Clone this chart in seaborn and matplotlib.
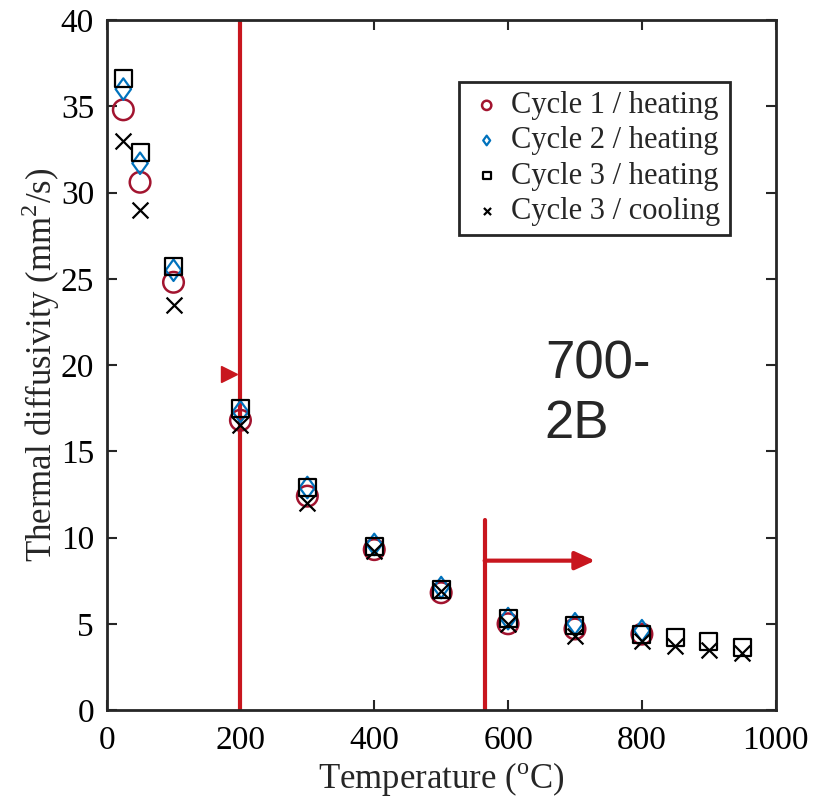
import pandas as pd
import numpy as np
import matplotlib.pyplot as plt
import seaborn as sns
from matplotlib.markers import MarkerStyle
from matplotlib.transforms import Affine2D

sns.set_style("ticks")
plt.rcParams['font.family'] = ['Liberation Serif', 'DejaVu Serif']
plt.rcParams['mathtext.fontset'] = 'custom'
plt.rcParams['mathtext.rm'] = 'Liberation Serif'

# temperatures (C)
temp_short = [25, 50, 100, 200, 300, 400, 500, 600, 700, 800]
temp_long = [25, 50, 100, 200, 300, 400, 500, 600, 700, 800, 850, 900, 950]

# thermal diffusivity (mm2/s)
cycle1_heat = [34.8, 30.6, 24.8, 16.8, 12.4, 9.3, 6.8, 5.0, 4.7, 4.4]
cycle2_heat = [36.0, 31.7, 25.5, 17.3, 12.9, 9.6, 7.1, 5.3, 5.0, 4.6]
cycle3_heat = [36.6, 32.3, 25.7, 17.5, 12.9, 9.5, 7.0, 5.3, 4.9, 4.4, 4.2, 4.0, 3.6]
cycle3_cool = [33.0, 29.0, 23.5, 16.5, 12.0, 9.2, 6.9, 5.0, 4.3, 4.0, 3.7, 3.5, 3.3]

labels = ["Cycle 1 / heating", "Cycle 2 / heating", "Cycle 3 / heating", "Cycle 3 / cooling"]

RED = "#A2142F"
BLUE = "#0072BD"
LINE_RED = "#C8161E"

fig, ax = plt.subplots(figsize=(8.2, 8.05), dpi=100)
fig.subplots_adjust(left=0.130, right=0.946, top=0.975, bottom=0.118)

# red marker lines (drawn under the data)
ax.axvline(200, color=LINE_RED, lw=3, zorder=1)
ax.plot([565, 565], [0, 11.0], color=LINE_RED, lw=3, zorder=1)
ax.annotate("", xy=(730, 8.66), xytext=(565, 8.66),
            arrowprops=dict(arrowstyle="-|>,head_length=1.2,head_width=0.55",
                            color=LINE_RED, lw=3, shrinkA=0, shrinkB=0), zorder=1)
ax.plot([183], [19.5], marker=">", color=LINE_RED, markersize=12, zorder=1, clip_on=False)

sns.scatterplot(x=temp_short, y=cycle1_heat, marker="o", s=220, facecolors="none",
                edgecolors=RED, linewidths=1.8, label=labels[0], ax=ax, zorder=3)
sns.scatterplot(x=temp_short, y=cycle2_heat, marker="D", s=120, facecolors="none",
                edgecolors=BLUE, linewidths=1.6, label=labels[1], ax=ax, zorder=3)
sns.scatterplot(x=temp_long, y=cycle3_heat, marker="s", s=150, facecolors="none",
                edgecolors="black", linewidths=1.6, label=labels[2], ax=ax, zorder=4)
sns.scatterplot(x=temp_long, y=cycle3_cool, marker="x", s=130, color="black",
                linewidths=1.6, label=labels[3], ax=ax, zorder=4)

# diamonds are taller than wide in the reference
m = MarkerStyle("D")
ax.collections[1].set_paths([m.get_path().transformed(m.get_transform() + Affine2D().scale(0.72, 1.0))])

ax.text(655, 18.3, "700-\n2B", fontsize=38, family=["Liberation Sans", "DejaVu Sans"],
        ha="left", va="center", linespacing=1.25)

ax.set_xlim(0, 1000)
ax.set_ylim(0, 40)
ax.set_xticks([0, 200, 400, 600, 800, 1000])
ax.set_yticks([0, 5, 10, 15, 20, 25, 30, 35, 40])
ax.set_xlabel("Temperature ($^{\\mathrm{o}}$C)", fontsize=25, labelpad=3)
ax.set_ylabel("Thermal diffusivity (mm$^{2}$/s)", fontsize=25, labelpad=-1)
ax.tick_params(direction="in", length=7, width=1.5, labelsize=24, top=True, right=True,
               color="#262626", labelcolor="black")
ax.tick_params(axis="x", pad=11)
ax.tick_params(axis="y", pad=9)
for sp in ax.spines.values():
    sp.set_linewidth(2)
    sp.set_color("#262626")
    sp.set_zorder(5)

leg = ax.legend(loc="upper right", bbox_to_anchor=(0.931, 0.910), borderaxespad=0,
                fontsize=22, markerscale=0.45, frameon=True, fancybox=False,
                edgecolor="#262626", handletextpad=0.2, labelspacing=0.2,
                borderpad=0.3, handlelength=1.2)
leg.get_frame().set_linewidth(2)
leg.get_frame().set_alpha(1)

fig.savefig("out.png", dpi=100)
